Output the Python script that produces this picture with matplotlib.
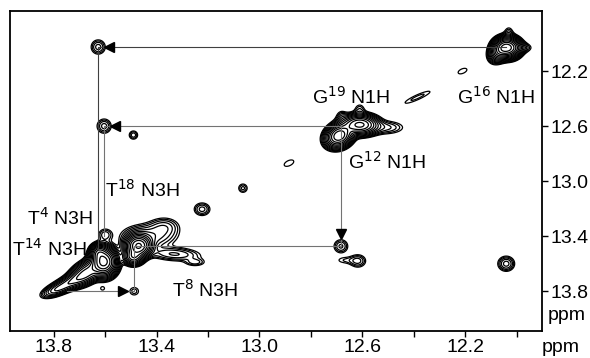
import numpy as np
import matplotlib
matplotlib.use("Agg")
import matplotlib.pyplot as plt
import matplotlib.transforms as mtransforms

plt.rcParams['font.family'] = ['Liberation Sans', 'DejaVu Sans']

# peak table: F2 (x, ppm), F1 (y, ppm), height, width x, width y, correlation
peak_x = [12.035, 12.065, 11.995, 12.03,
          12.69, 12.61, 12.51, 12.61, 12.68,
          12.385, 12.21,
          13.627, 13.604, 13.49, 12.885, 13.064, 13.223,
          12.683, 12.617, 12.665, 12.04, 13.487, 13.61,
          13.605, 13.625, 13.47, 13.49, 13.79, 13.73, 13.67,
          13.33, 13.25, 13.43, 13.60, 13.37]
peak_y = [12.03, 12.05, 12.03, 11.92,
          12.67, 12.59, 12.61, 12.48, 12.53,
          12.39, 12.20,
          12.025, 12.60, 12.665, 12.869, 13.051, 13.204,
          13.473, 13.58, 13.575, 13.60, 13.80, 13.78,
          13.585, 13.52, 13.47, 13.55, 13.79, 13.73, 13.66,
          13.53, 13.59, 13.40, 13.39, 13.33]
peak_h = [90, 30, 4, 1.8,
          55, 45, 3, 1.8, 1.8,
          1.6, 1.35,
          3.2, 3.2, 2.5, 1.35, 2.2, 3.2,
          3.0, 3.0, 1.4, 4.5, 1.7, 1.25,
          90, 30, 60, 25, 7, 12, 22,
          4, 2.2, 5, 2.5, 3]
peak_wx = [0.024, 0.02, 0.03, 0.012,
           0.026, 0.035, 0.045, 0.014, 0.014,
           0.05, 0.022,
           0.018, 0.018, 0.012, 0.024, 0.013, 0.02,
           0.018, 0.02, 0.03, 0.019, 0.016, 0.01,
           0.024, 0.016, 0.025, 0.02, 0.03, 0.045, 0.035,
           0.06, 0.025, 0.06, 0.018, 0.035]
peak_wy = [0.036, 0.04, 0.022, 0.03,
           0.042, 0.036, 0.03, 0.03, 0.03,
           0.045, 0.026,
           0.034, 0.034, 0.022, 0.03, 0.024, 0.03,
           0.032, 0.03, 0.02, 0.032, 0.026, 0.016,
           0.05, 0.03, 0.04, 0.03, 0.03, 0.045, 0.05,
           0.03, 0.018, 0.05, 0.03, 0.04]
peak_rho = [0, 0.3, 0, 0,
            0.2, 0, 0, 0, 0,
            0.9, 0.5,
            0, 0, 0, 0.5, 0, 0,
            0, 0, 0, 0, 0, 0,
            0, 0, 0, 0, 0.6, 0.75, 0.5,
            -0.2, 0, 0, 0, 0]

# sequential walk lines
walk1_x = [12.04, 13.627, 13.627]
walk1_y = [12.025, 12.025, 13.50]
walk2_x = [13.604, 13.604, 12.683, 12.683, 13.487, 13.487, 13.75]
walk2_y = [13.40, 12.60, 12.60, 13.473, 13.473, 13.80, 13.80]

# arrow heads: (x, y, marker, dx px, dy px)
arrows = [(13.627, 12.025, '<', 11, 0),
          (13.604, 12.60, '<', 11, 0),
          (12.683, 13.473, 'v', 0, 12),
          (13.487, 13.80, '>', -11, 0)]

labels = [("G$^{19}$ N1H", 12.645, 12.385),
          ("G$^{16}$ N1H", 12.078, 12.385),
          ("G$^{12}$ N1H", 12.505, 12.86),
          ("T$^{18}$ N3H", 13.455, 13.06),
          ("T$^{4}$ N3H", 13.775, 13.27),
          ("T$^{14}$ N3H", 13.815, 13.49),
          ("T$^{8}$ N3H", 13.21, 13.79)]

xt = np.arange(12.0, 13.81, 0.2)
xt_lab = ["13.8", "13.4", "13.0", "12.6", "12.2"]
yt = [12.2, 12.6, 13.0, 13.4, 13.8]

gx = np.linspace(11.88, 13.99, 900)
gy = np.linspace(11.74, 14.11, 600)
X, Y = np.meshgrid(gx, gy)
Z = np.zeros_like(X)
for x0, y0, h, sx, sy, r in zip(peak_x, peak_y, peak_h, peak_wx, peak_wy, peak_rho):
    u = (X - x0) / sx
    v = (Y - y0) / sy
    Z += h * np.exp(-(u * u - 2 * r * u * v + v * v) / (2 * (1 - r * r)))

levels = 1.0 * 1.4 ** np.arange(16)

fig = plt.figure(figsize=(5.9, 3.58), dpi=100)
ax = fig.add_axes([0.017, 0.075, 0.902, 0.894])

ax.contour(X, Y, Z, levels=levels, colors='black', linewidths=0.9)

ax.plot(walk1_x, walk1_y, color='0.25', lw=0.8)
ax.plot(walk2_x, walk2_y, color='0.45', lw=0.8)
for x0, y0, m, dx, dy in arrows:
    tr = mtransforms.offset_copy(ax.transData, fig=fig, x=dx, y=dy, units='dots')
    ax.plot([x0], [y0], marker=m, color='black', ms=7, transform=tr)

for txt, x0, y0 in labels:
    ax.text(x0, y0, txt, fontsize=14, ha='center', va='center')

ax.set_xlim(13.97, 11.90)
ax.set_ylim(14.09, 11.764)
ax.set_xticks(xt)
ax.set_xticklabels([s for t in xt for s in [next((l for l in xt_lab if abs(float(l) - t) < 1e-6), "")]])
ax.set_yticks(yt)
ax.set_yticklabels([f"{t:.1f}" for t in yt])
ax.yaxis.tick_right()
ax.tick_params(axis='both', direction='out', length=4, width=1, labelsize=14, pad=2)
for s in ax.spines.values():
    s.set_linewidth(1.3)

fig.text(0.928, 0.12, "ppm", fontsize=14, ha='left', va='center')
fig.text(0.95, 0.028, "ppm", fontsize=14, ha='center', va='center')

fig.savefig("out.png", dpi=100)
